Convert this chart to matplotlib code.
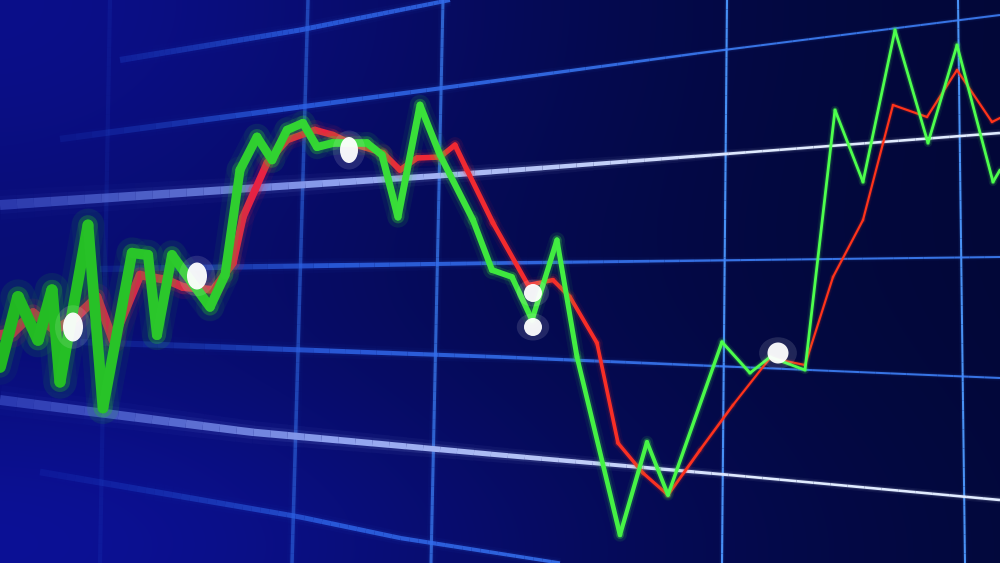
import numpy as np
import matplotlib
matplotlib.use("Agg")
import matplotlib.pyplot as plt
from matplotlib.collections import LineCollection
from matplotlib.patches import Ellipse

W, H = 1000, 563

# price line (pixel positions on the photo)
green_x = [0, 18, 38, 52, 60, 88, 103, 132, 148, 157, 172, 210, 225, 240, 257, 272, 287, 303,
           317, 333, 367, 382, 398, 420, 440, 473, 492, 512, 532, 557, 577, 620, 647, 668,
           722, 750, 770, 805, 835, 863, 895, 928, 957, 993, 1000]
green_y = [367, 297, 340, 290, 382, 225, 408, 253, 255, 335, 255, 307, 275, 170, 137, 160, 130, 123,
           147, 143, 143, 155, 217, 105, 155, 220, 270, 277, 320, 240, 357, 535, 442, 495,
           342, 373, 357, 370, 110, 182, 30, 143, 45, 182, 170]

# moving average line
red_x = [0, 12, 33, 55, 75, 97, 113, 140, 150, 167, 183, 213, 233, 243, 255, 267, 287, 315,
         333, 350, 383, 400, 417, 440, 455, 467, 493, 528, 553, 570, 597, 618, 643, 668,
         700, 733, 770, 805, 833, 863, 893, 927, 957, 992, 1000]
red_y = [335, 333, 313, 330, 318, 297, 340, 275, 277, 280, 287, 290, 263, 217, 190, 163, 140, 130,
         135, 143, 153, 170, 158, 157, 145, 170, 223, 285, 280, 297, 343, 443, 473, 495,
         450, 405, 358, 365, 277, 220, 105, 117, 70, 122, 118]

# highlighted points
dot_x = [73, 197, 349, 533, 533, 778]
dot_y = [327, 276, 150, 293, 327, 353]
dot_w = [20, 20, 18, 18, 18, 21]
dot_h = [29, 27, 26, 18, 18, 21]

# grid lines seen in perspective: (x, y, x where it is fully visible)
grid_h = [
    ([120, 300, 450], [60, 30, 0], 300),
    ([60, 450, 700, 1000], [139, 87, 53, 15], 280),
    ([0, 450, 1000], [205, 175, 133], 0),
    ([100, 500, 1000], [269, 263, 257], 330),
    ([80, 500, 1000], [342, 357, 378], 330),
    ([0, 250, 500, 730, 1000], [400, 432, 455, 475, 500], 0),
    ([40, 300, 400, 560], [472, 517, 538, 563], 330),
]
bright_h = [2, 5]
grid_v = [
    ([110, 100], [0, 563], 0.12),
    ([308, 292], [0, 563], 0.55),
    ([443, 431], [0, 563], 0.75),
    ([727, 722], [0, 563], 0.95),
    ([958, 965], [0, 563], 0.95),
]


def depth(x, near, far):
    # things further left are closer to the lens, so wider and softer
    return np.clip(near - (near - far) * np.asarray(x) / 750.0, far, near)


def draw_line(ax, xs, ys, near_col, far_col, near_w, far_w, z,
              glow=(0.07, 0.18), alpha=None, fine=False):
    xs = np.asarray(xs, float)
    ys = np.asarray(ys, float)
    cap = "round"
    if fine:
        # grid lines only: split into short pieces so width/colour change smoothly
        t = np.linspace(0, 1, 60)
        d = np.concatenate([[0], np.cumsum(np.hypot(np.diff(xs), np.diff(ys)))])
        s = t * d[-1]
        xs, ys = np.interp(s, d, xs), np.interp(s, d, ys)
        cap = "butt"
    pts = np.column_stack([xs, ys]).reshape(-1, 1, 2)
    segs = np.concatenate([pts[:-1], pts[1:]], axis=1)
    mid = (xs[:-1] + xs[1:]) / 2
    t = np.clip(mid / 750.0, 0, 1)[:, None]
    cols = np.array(near_col) * (1 - t) + np.array(far_col) * t
    a = np.ones(len(mid)) if alpha is None else alpha(mid)
    widths = depth(mid, near_w, far_w) * 0.72
    if glow:
        for k, ga in [(3.0, glow[0]), (1.8, glow[1])]:
            c = np.column_stack([cols, ga * a])
            ax.add_collection(LineCollection(segs, colors=c, linewidths=widths * k,
                                             capstyle=cap, joinstyle="round", zorder=z))
    ax.add_collection(LineCollection(segs, colors=np.column_stack([cols, a]), linewidths=widths,
                                     capstyle=cap, joinstyle="round", zorder=z + 0.5))


fig = plt.figure(figsize=(10, 5.63), dpi=100)
ax = fig.add_axes([0, 0, 1, 1])
ax.set_xlim(0, W)
ax.set_ylim(H, 0)
ax.axis("off")

# screen background
X, Y = np.meshgrid(np.linspace(0, 1, W), np.linspace(0, 1, H))
tl = np.exp(-(X ** 2 / 0.3 + Y ** 2 / 0.4))
bl = np.exp(-(X ** 2 / 0.4 + (Y - 1) ** 2 / 0.15))
bg = np.zeros((H, W, 3))
base = np.array([0.008, 0.033, 0.24])
for i in range(3):
    bg[..., i] = base[i] * (1 - 0.12 * X) \
        + [0.035, 0.025, 0.3][i] * tl + [0.035, 0.03, 0.32][i] * bl
ax.imshow(np.clip(bg, 0, 1), extent=[0, W, H, 0], aspect="auto", zorder=0)

for xs, ys, op in grid_v:
    draw_line(ax, xs, ys, (0.12, 0.32, 0.85), (0.3, 0.6, 1.0), 4.5, 2.0, 1,
              glow=(0.04, 0.1), alpha=lambda m, op=op: np.full(len(m), op), fine=True)
for i, (xs, ys, full) in enumerate(grid_h):
    if i in bright_h:
        draw_line(ax, xs, ys, (0.3, 0.4, 0.88), (0.88, 0.92, 1.0), 10, 2.6, 2,
                  glow=(0.05, 0.12), alpha=lambda m: np.clip(0.45 + m / 600.0, 0, 1), fine=True)
    else:
        lo = 0.12 if i == 6 else 0.05
        draw_line(ax, xs, ys, (0.12, 0.28, 0.82), (0.25, 0.52, 1.0), 7, 2.0, 2,
                  glow=(0.04, 0.1),
                  alpha=lambda m, f=full, lo=lo: lo + (0.85 - lo) * np.clip(m / f, 0, 1) ** 1.5,
                  fine=True)

draw_line(ax, red_x, red_y, (0.85, 0.1, 0.35), (1.0, 0.2, 0.1), 10, 2.2, 3, glow=(0.05, 0.15))
draw_line(ax, green_x, green_y, (0.13, 0.72, 0.13), (0.3, 1.0, 0.3), 12, 2.8, 4, glow=(0.06, 0.16))

for x, y, w, h in zip(dot_x, dot_y, dot_w, dot_h):
    ax.add_patch(Ellipse((x, y), w * 1.8, h * 1.5, color="white", alpha=0.12, lw=0, zorder=6))
    ax.add_patch(Ellipse((x, y), w, h, color="white", alpha=0.95, lw=0, zorder=6))

fig.savefig("out.png", dpi=100)
